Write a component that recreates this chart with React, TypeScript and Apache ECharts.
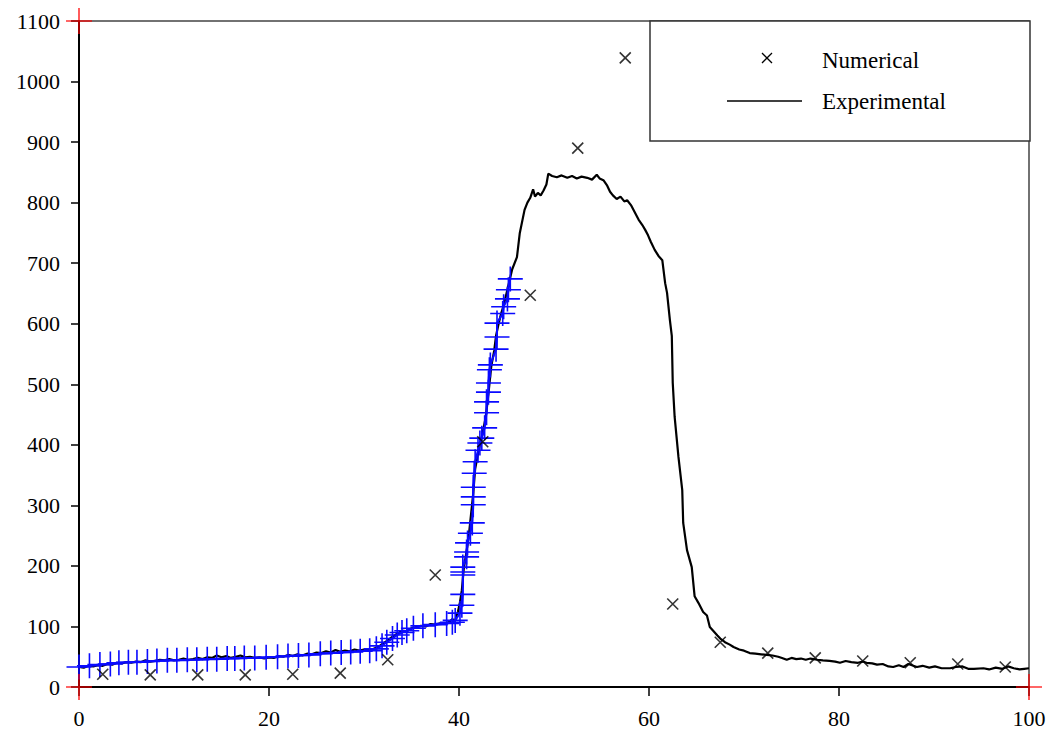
import React, { useEffect, useRef } from "react";
import * as echarts from "echarts";

const xTicks = [0, 20, 40, 60, 80, 100];
const yTicks = [0, 100, 200, 300, 400, 500, 600, 700, 800, 900, 1000, 1100];

const numX = [2.5, 7.5, 12.5, 17.5, 22.5, 27.5, 32.5, 37.5, 42.5, 47.5, 52.5, 57.5, 62.5, 67.5, 72.5, 77.5, 82.5, 87.5, 92.5, 97.5];
const numY = [21, 20, 20, 20, 21, 23, 45, 185, 405, 647, 890, 1039, 137, 74, 56, 48, 43, 40, 38, 33];

const expX = [0, 0.5, 1, 1.5, 2, 2.5, 3, 3.5, 4, 4.5, 5, 5.5, 6, 6.5, 7, 7.5, 8, 8.5, 9, 9.5, 10, 10.5, 11, 11.5, 12, 12.5, 13, 13.5, 14, 14.5, 15, 15.5, 16, 16.5, 17, 17.5, 18, 18.5, 19, 19.5, 20, 20.5, 21, 21.5, 22, 22.5, 23, 23.5, 24, 24.5, 25, 25.5, 26, 26.5, 27, 27.5, 28, 28.5, 29, 29.5, 30, 30.5, 31, 31.5, 32, 32.5, 33, 33.5, 34, 34.5, 35, 35.5, 36, 36.5, 37, 37.5, 38, 38.5, 39, 39.3, 39.6, 39.9, 40.1, 40.3, 40.5, 40.7, 40.9, 41.1, 41.3, 41.5, 41.7, 42.0, 42.2, 42.5, 42.8, 43.0, 43.2, 43.4, 43.7, 43.9, 44.1, 44.4, 44.7, 45.0, 45.3, 45.6, 46.1, 46.4, 46.9, 47.2, 47.5, 47.8, 48.0, 48.3, 48.6, 48.9, 49.2, 49.4, 49.8, 50.3, 50.8, 51.4, 51.9, 52.4, 52.9, 53.5, 54.0, 54.5, 54.8, 55.2, 55.6, 55.9, 56.2, 56.6, 57.0, 57.4, 57.7, 58.1, 58.5, 58.9, 59.3, 59.6, 59.9, 60.2, 60.6, 61.0, 61.4, 61.7, 61.9, 62.2, 62.4, 62.5, 62.7, 63.1, 63.5, 63.6, 64.0, 64.5, 64.8, 65.2, 65.7, 66.1, 66.4, 66.8, 67.2, 67.5, 68.0, 68.5, 68.9, 69.5, 70.0, 70.6, 71.2, 71.8, 72.4, 73.0, 73.6, 74.0, 74.5, 75.0, 75.5, 76.0, 76.5, 77.0, 77.7, 78.3, 79.0, 79.6, 80.1, 80.7, 81.3, 82.0, 82.5, 82.9, 83.5, 84.0, 84.6, 85.2, 85.7, 86.3, 86.8, 87.3, 88.2, 88.8, 89.5, 90.1, 90.8, 91.7, 92.3, 93.0, 93.6, 94.2, 95.2, 95.8, 96.5, 97.2, 97.8, 98.4, 99.0, 99.5, 100];
const expY = [33, 32, 35, 34, 36, 35, 38, 37, 40, 39, 41, 40, 42, 41, 44, 42, 43, 45, 44, 46, 44, 45, 47, 45, 46, 48, 46, 49, 48, 52, 49, 51, 48, 50, 52, 49, 50, 48, 49, 47, 49, 48, 51, 50, 53, 51, 54, 52, 55, 54, 57, 56, 59, 57, 61, 58, 60, 59, 62, 60, 62, 61, 63, 66, 72, 77, 83, 88, 93, 92, 97, 99, 101, 100, 104, 103, 105, 104, 108, 112, 110, 125, 140, 160, 195, 215, 235, 260, 290, 320, 360, 385, 400, 420, 445, 470, 500, 530, 555, 580, 595, 615, 630, 650, 670, 690, 710, 750, 788, 800, 808, 822, 810, 816, 812, 820, 830, 848, 844, 842, 845, 841, 844, 840, 843, 841, 838, 846, 840, 837, 828, 818, 812, 806, 810, 802, 804, 796, 784, 772, 763, 755, 746, 735, 722, 712, 705, 667, 651, 606, 580, 502, 446, 380, 325, 271, 226, 198, 150, 139, 124, 118, 99, 92, 85, 80, 74, 70, 66, 62, 60, 56, 55, 54, 53, 52, 50, 48, 45, 48, 46, 47, 45, 47, 45, 44, 43, 42, 40, 43, 41, 40, 42, 40, 39, 37, 38, 34, 33, 36, 33, 38, 33, 35, 32, 34, 31, 31, 33, 34, 30, 30, 31, 29, 32, 30, 34, 31, 29, 30, 31];

const blueX = [0, 1.1, 2.2, 3.3, 4.2, 5.2, 6.1, 7.2, 8.2, 9.3, 10.3, 11.4, 12.4, 13.5, 14.5, 15.6, 16.4, 17.4, 18.5, 19.7, 20.9, 22.0, 23.1, 24.2, 25.4, 26.5, 27.6, 28.6, 29.6, 30.6, 31.3, 31.9, 32.4, 33.0, 33.5, 34.0, 34.5, 35.2, 36.2, 37.5, 38.7, 39.3, 39.6, 40.1, 40.3, 40.4, 40.4, 40.4, 40.4, 40.8, 40.8, 40.9, 41.2, 41.4, 41.5, 41.5, 41.5, 41.6, 41.7, 42.0, 42.2, 42.4, 42.7, 42.9, 42.9, 43.1, 43.1, 43.2, 43.3, 43.9, 44.0, 44.0, 44.6, 44.7, 45.1, 45.2, 45.4];
const blueY = [33, 35, 37, 38, 40, 41, 41, 42, 43, 44, 44, 45, 45, 46, 46, 47, 47, 48, 48, 49, 50, 51, 52, 53, 55, 56, 57, 58, 59, 60, 63, 68, 74, 80, 86, 90, 93, 97, 101, 103, 105, 107, 110, 122, 135, 153, 185, 190, 198, 215, 223, 238, 254, 271, 301, 314, 330, 353, 372, 391, 403, 411, 428, 453, 471, 487, 502, 524, 532, 558, 578, 601, 617, 628, 641, 656, 674];

const cornerX = [0, 0, 100];
const cornerY = [0, 1100, 0];

const FONT = "'Liberation Serif', 'Times New Roman', serif";
const PLUS = "path://M0,-1L0,1M-1,0L1,0";
const CROSS = "path://M-1,-1L1,1M-1,1L1,-1";

export default function App() {
  const ref = useRef<HTMLDivElement>(null);
  useEffect(() => {
    if (!ref.current) return;
    const chart = echarts.init(ref.current, null, { renderer: "svg" });
    const zip = (xs: number[], ys: number[]) => xs.map((x, i) => [x, ys[i]]);
    chart.setOption({
      animation: false,
      backgroundColor: "#fff",
      grid: {
        left: 79,
        right: 26,
        top: 21,
        bottom: 51,
        show: true,
        borderColor: "#444",
        borderWidth: 1.5,
        backgroundColor: "transparent",
      },
      xAxis: {
        type: "value",
        min: xTicks[0],
        max: xTicks[xTicks.length - 1],
        interval: 20,
        splitLine: { show: false },
        axisLine: { show: true, lineStyle: { color: "#000", width: 2 } },
        axisTick: { show: true, length: 9, lineStyle: { color: "#000", width: 1.5 } },
        axisLabel: { color: "#000", fontFamily: FONT, fontSize: 22, margin: 20, formatter: (v: number) => String(v) },
      },
      yAxis: {
        type: "value",
        min: yTicks[0],
        max: yTicks[yTicks.length - 1],
        interval: 100,
        splitLine: { show: false },
        axisLine: { show: true, lineStyle: { color: "#000", width: 2 } },
        axisTick: { show: true, length: 8, lineStyle: { color: "#000", width: 1.5 } },
        axisLabel: { color: "#000", fontFamily: FONT, fontSize: 22, margin: 19, formatter: (v: number) => String(v) },
      },
      series: [
        {
          name: "Experimental",
          type: "line",
          data: zip(expX, expY),
          symbol: "none",
          lineStyle: { color: "#000", width: 2.2 },
          z: 2,
        },
        {
          name: "Fit",
          type: "line",
          data: zip(blueX, blueY),
          symbol: PLUS,
          symbolSize: 25,
          showAllSymbol: true,
          lineStyle: { color: "#0a0aff", width: 2 },
          itemStyle: { color: "#0a0aff", borderColor: "#0a0aff", borderWidth: 1.6 },
          z: 3,
        },
        {
          name: "Numerical",
          type: "scatter",
          data: zip(numX, numY),
          symbol: CROSS,
          symbolSize: 11,
          itemStyle: { color: "#000", borderColor: "#000", borderWidth: 1.6 },
          z: 4,
        },
        {
          name: "Corners",
          type: "scatter",
          data: zip(cornerX, cornerY),
          symbol: PLUS,
          symbolSize: 26,
          clip: false,
          itemStyle: { color: "#ff0000", borderColor: "#ff0000", borderWidth: 1.6 },
          z: 5,
        },
      ],
      graphic: [
        {
          type: "group",
          z: 100,
          children: [
            {
              type: "rect",
              shape: { x: 650, y: 21, width: 380, height: 120 },
              style: { fill: "#fff", stroke: "#333", lineWidth: 1.5 },
            },
            {
              type: "line",
              shape: { x1: 762, y1: 53, x2: 772, y2: 63 },
              style: { stroke: "#000", lineWidth: 1.3 },
            },
            {
              type: "line",
              shape: { x1: 762, y1: 63, x2: 772, y2: 53 },
              style: { stroke: "#000", lineWidth: 1.3 },
            },
            {
              type: "text",
              x: 822,
              y: 60,
              style: { text: "Numerical", fill: "#000", font: `23px ${FONT}`, verticalAlign: "middle", align: "left" },
            },
            {
              type: "line",
              shape: { x1: 727, y1: 101, x2: 802, y2: 101 },
              style: { stroke: "#000", lineWidth: 1.5 },
            },
            {
              type: "text",
              x: 822,
              y: 101,
              style: { text: "Experimental", fill: "#000", font: `23px ${FONT}`, verticalAlign: "middle", align: "left" },
            },
          ],
        },
      ],
    });
    return () => chart.dispose();
  }, []);
  return (
    <div
      ref={ref}
      style={{ position: "fixed", left: 0, top: 0, width: 1055, height: 738, background: "#fff" }}
    />
  );
}
